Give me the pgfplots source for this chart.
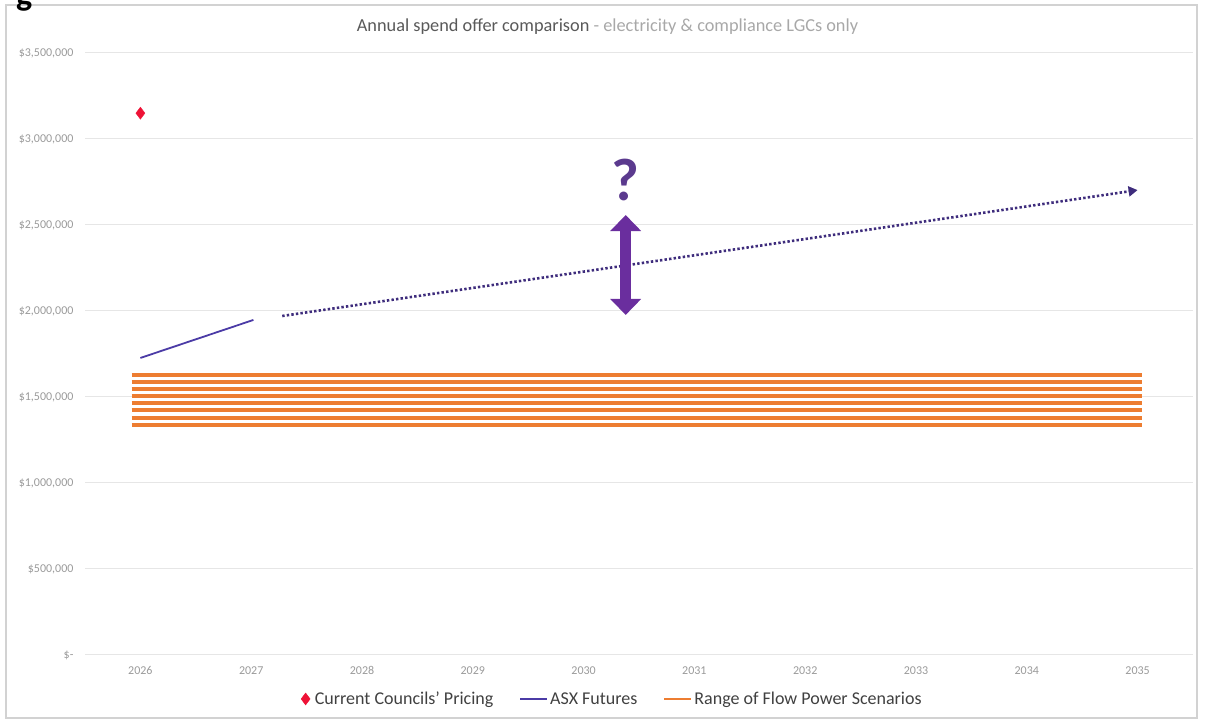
\documentclass[border=0pt]{standalone}
\usepackage{pgfplots}
\pgfplotsset{compat=1.18}
\usepackage{fontspec}
\setmainfont{Carlito}
\usetikzlibrary{arrows.meta}
\definecolor{gridgray}{HTML}{E6E6E6}
\definecolor{ticktxt}{HTML}{9A9A9A}
\definecolor{framegray}{HTML}{D2D2D2}
\definecolor{titledark}{HTML}{595959}
\definecolor{titlelight}{HTML}{A8A8A8}
\definecolor{legendtxt}{HTML}{404040}
\definecolor{asxline}{HTML}{4B3BA6}
\definecolor{dotpurple}{HTML}{3E2C7C}
\definecolor{arrowpurple}{HTML}{6A2E9E}
\definecolor{qpurple}{HTML}{5B3A8E}
\definecolor{pricered}{HTML}{EE1236}
\definecolor{flowor}{HTML}{ED7D31}

\pgfplotsset{
  orangeleg/.style={legend image code/.code={\draw[##1, line width=2pt] (0pt,0pt) -- (27pt,0pt);}},
  asxleg/.style={legend image code/.code={\draw[##1] (0pt,0pt) -- (27pt,0pt);}},
  diamleg/.style={legend image code/.code={\draw[mark repeat=1,mark phase=1,##1] plot coordinates {(4pt,0pt)}; \path (11pt,0pt);}},
}

\pgfplotstableread{
x y
2026 3150000
}\currentpricing
\pgfplotstableread{
x y
2026 1727000
2027.02 1948000
}\asxsolid
\pgfplotstableread{
x y
2027.28 1971000
2035.00 2703000
}\asxdotted

\begin{document}
\begin{tikzpicture}[x=1pt,y=1pt]
\useasboundingbox (0,0) rectangle (1205,720);
\draw[framegray, line width=1.5pt] (6,2) rectangle (1197,715);
\begin{scope}
\clip (0,705) rectangle (80,720);
\node[anchor=base west, inner sep=0pt, font=\bfseries\fontsize{34}{34}\selectfont] at (16,714) {g};
\end{scope}
\node[anchor=center, font=\fontsize{18.3}{20}\selectfont] at (607.5,693)
  {\textcolor{titledark}{Annual spend offer comparison} \textcolor{titlelight}{- electricity \& compliance LGCs only}};
\begin{axis}[
  at={(85pt,65pt)}, anchor=south west,
  width=1108pt, height=602pt, scale only axis,
  xmin=2025.5, xmax=2035.5, ymin=0, ymax=3500000,
  scaled y ticks=false,
  axis line style={draw=none},
  tick style={draw=none},
  xtick={2026,2027,2028,2029,2030,2031,2032,2033,2034,2035},
  xticklabels={2026,2027,2028,2029,2030,2031,2032,2033,2034,2035},
  ytick={0,500000,1000000,1500000,2000000,2500000,3000000,3500000},
  yticklabels={{\$-\hspace{6pt}},{\$500,000},{\$1,000,000},{\$1,500,000},{\$2,000,000},{\$2,500,000},{\$3,000,000},{\$3,500,000}},
  ymajorgrids,
  major grid style={gridgray, line width=1pt},
  tick label style={font=\fontsize{12}{14}\selectfont, text=ticktxt},
  yticklabel style={xshift=-8pt},
  xticklabel style={yshift=-8pt},
  legend columns=3,
  legend cell align=left,
  legend style={at={(0.476,-0.073)}, anchor=center, draw=none, fill=none,
    font=\fontsize{18}{20}\selectfont, text=legendtxt,
    /tikz/every even column/.append style={column sep=24pt}},
  clip=false,
]
% current pricing
\addplot[only marks, mark=diamond*, mark size=6pt, color=pricered, diamleg]
  table[x=x,y=y] {\currentpricing};
\addlegendentry{Current Councils' Pricing}
% ASX futures
\addplot[asxline, line width=1.8pt, asxleg]
  table[x=x,y=y] {\asxsolid};
\addlegendentry{ASX Futures}
\addplot[dotpurple, line width=2.6pt, dash pattern=on 2.4pt off 2.2pt,
  -{Triangle[width=10pt,length=9pt]}, forget plot]
  table[x=x,y=y] {\asxdotted};
% orange range lines
\addplot[flowor, line width=4pt, orangeleg]
  coordinates {(2025.92,1628000) (2035.04,1628000)};
\addlegendentry{Range of Flow Power Scenarios}
\addplot[flowor, line width=4pt, forget plot] coordinates {(2025.92,1587000) (2035.04,1587000)};
\addplot[flowor, line width=4pt, forget plot] coordinates {(2025.92,1545000) (2035.04,1545000)};
\addplot[flowor, line width=4pt, forget plot] coordinates {(2025.92,1504000) (2035.04,1504000)};
\addplot[flowor, line width=4pt, forget plot] coordinates {(2025.92,1463000) (2035.04,1463000)};
\addplot[flowor, line width=4pt, forget plot] coordinates {(2025.92,1422000) (2035.04,1422000)};
\addplot[flowor, line width=4pt, forget plot] coordinates {(2025.92,1380000) (2035.04,1380000)};
\addplot[flowor, line width=4pt, forget plot] coordinates {(2025.92,1339000) (2035.04,1339000)};
% annotation
\draw[arrowpurple, line width=11pt,
  {Triangle[width=30pt,length=16pt]}-{Triangle[width=30pt,length=16pt]}]
  (axis cs:2030.38,1977000) -- (axis cs:2030.38,2558000);
\node[text=qpurple, font=\bfseries\fontsize{60}{60}\selectfont, anchor=center]
  at (axis cs:2030.38,2762000) {?};
\end{axis}
\end{tikzpicture}
\end{document}
